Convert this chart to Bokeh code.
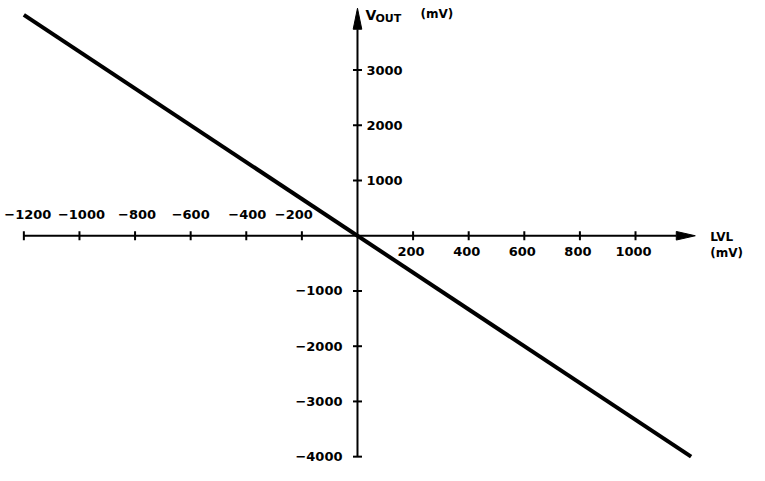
import numpy as np
from bokeh.plotting import figure
from bokeh.models import Range1d
from bokeh.core.properties import value
from bokeh.embed import file_html
from bokeh.resources import INLINE

# ---- data ----
x_ticks = [-1200, -1000, -800, -600, -400, -200, 200, 400, 600, 800, 1000]
x_tick_labels = ["\u22121200", "\u22121000", "\u2212800", "\u2212600", "\u2212400", "\u2212200",
                 "200", "400", "600", "800", "1000"]
y_ticks = [3000, 2000, 1000, -1000, -2000, -3000, -4000]
y_tick_labels = ["3000", "2000", "1000", "\u22121000", "\u22122000", "\u22123000", "\u22124000"]
lvl_mv = [-1200, 1200]
vout_mv = [4000, -4000]
x_axis_extent = [-1200, 1215]
y_axis_extent = [-4000, 4120]

# label nudges in screen pixels (styling)
neg_label_nudge = [4, 2, 2, 0, 1, -8]

W, H = 749, 465
x0, x1 = -1284, 1410
y0, y1 = -4160, 4260
px_x = W / (x1 - x0)
px_y = H / (y1 - y0)

p = figure(width=W, height=H, output_backend="svg", toolbar_location=None,
           x_range=Range1d(x0, x1), y_range=Range1d(y0, y1),
           x_axis_location=None, y_axis_location=None, min_border=0)
p.grid.visible = False
p.outline_line_color = None
p.background_fill_color = "white"
p.border_fill_color = "white"

FONT = value("DejaVu Sans")
FS = "13px"

# axes lines
head_len_x = 19 / px_x
head_w_x = 4.3 / px_y
head_len_y = 21 / px_y
head_w_y = 4.3 / px_x
xt, yt = x_axis_extent[1], y_axis_extent[1]
p.line([x_axis_extent[0], xt - head_len_x], [0, 0], line_color="black", line_width=2)
p.line([0, 0], [y_axis_extent[0], yt - head_len_y], line_color="black", line_width=2)
# arrowheads
p.patches([[xt, xt - head_len_x, xt - head_len_x], [0, -head_w_y, head_w_y]],
          [[0, head_w_x, -head_w_x], [yt, yt - head_len_y, yt - head_len_y]],
          fill_color="black", line_color="black", line_width=1)

# ticks
p.scatter(x_ticks, [0] * len(x_ticks), marker="dash", size=9, angle=np.pi / 2,
          line_color="black", line_width=2)
p.scatter([0] * len(y_ticks), y_ticks, marker="dash", size=9,
          line_color="black", line_width=2)

# data line
p.line(lvl_mv, vout_mv, line_color="black", line_width=4)

# x tick labels
neg = [i for i, v in enumerate(x_ticks) if v < 0]
pos = [i for i, v in enumerate(x_ticks) if v > 0]
for k, i in enumerate(neg):
    p.text([x_ticks[i]], [0], [x_tick_labels[i]],
           text_align="center", text_baseline="middle", x_offset=neg_label_nudge[k], y_offset=-21,
           text_font=FONT, text_font_size=FS, text_font_style="bold", text_color="black")
p.text([x_ticks[i] for i in pos], [0] * len(pos), [x_tick_labels[i] for i in pos],
       text_align="center", text_baseline="middle", x_offset=-2, y_offset=16,
       text_font=FONT, text_font_size=FS, text_font_style="bold", text_color="black")

# y tick labels
ypos = [i for i, v in enumerate(y_ticks) if v > 0]
yneg = [i for i, v in enumerate(y_ticks) if v < 0]
p.text([0] * len(ypos), [y_ticks[i] for i in ypos], [y_tick_labels[i] for i in ypos],
       text_align="left", text_baseline="middle", x_offset=9,
       text_font=FONT, text_font_size=FS, text_font_style="bold", text_color="black")
p.text([0] * len(yneg), [y_ticks[i] for i in yneg], [y_tick_labels[i] for i in yneg],
       text_align="right", text_baseline="middle", x_offset=-15,
       text_font=FONT, text_font_size=FS, text_font_style="bold", text_color="black")

# axis titles
p.text([0], [yt], ["V"], text_align="left", text_baseline="middle", x_offset=8, y_offset=7,
       text_font=FONT, text_font_size="14px", text_font_style="bold", text_color="black")
p.text([0], [yt], ["OUT"], text_align="left", text_baseline="middle", x_offset=18, y_offset=10,
       text_font=FONT, text_font_size="11px", text_font_style="bold", text_color="black")
p.text([0], [yt], ["(mV)"], text_align="left", text_baseline="middle", x_offset=63, y_offset=6,
       text_font=FONT, text_font_size="12px", text_font_style="bold", text_color="black")
p.text([xt], [0], ["LVL"], text_align="left", text_baseline="middle", x_offset=15, y_offset=1,
       text_font=FONT, text_font_size="12px", text_font_style="bold", text_color="black")
p.text([xt], [0], ["(mV)"], text_align="left", text_baseline="middle", x_offset=15, y_offset=17,
       text_font=FONT, text_font_size="12px", text_font_style="bold", text_color="black")

open("out.html", "w").write(file_html(p, INLINE))
